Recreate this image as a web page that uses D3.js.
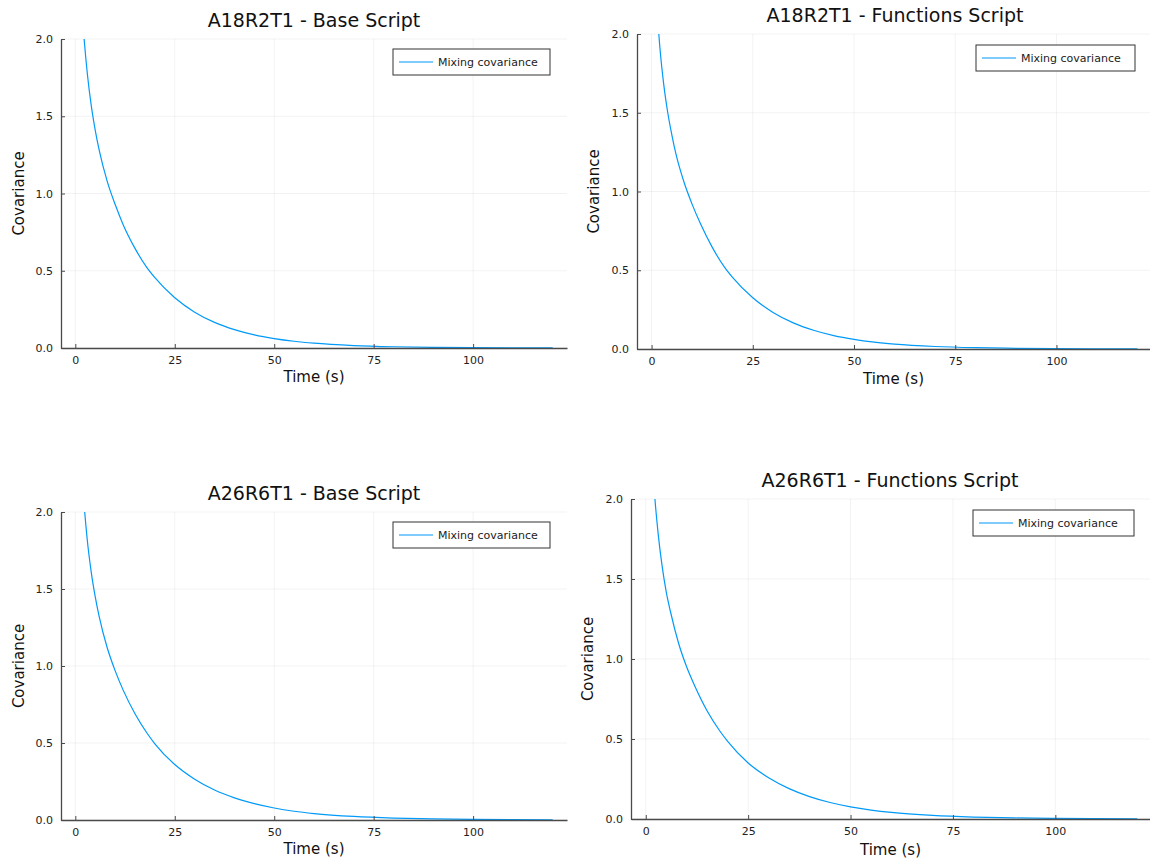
<!DOCTYPE html>
<html>
<head>
<meta charset="utf-8">
<script src="https://cdn.jsdelivr.net/npm/d3@7"></script>
<style>
  body { margin: 0; background: #fff; }
  svg { font-family: "DejaVu Sans", sans-serif; }
</style>
</head>
<body>
<div id="root"></div>
<script>
// values
const time = [1, 2, 3, 4, 5, 6, 8, 10, 12, 15, 18, 20, 25, 30, 35, 40, 45, 50, 55, 60, 70, 80, 90, 100, 110, 120];
const covA18Base = [2.46, 2.07, 1.78, 1.57, 1.41, 1.28, 1.08, 0.93, 0.80, 0.645, 0.52, 0.455, 0.325, 0.232, 0.166, 0.119, 0.085, 0.061, 0.0435, 0.031, 0.016, 0.0082, 0.0042, 0.0022, 0.0011, 0.0006];
const covA18Func = [2.30, 1.93, 1.68, 1.50, 1.36, 1.24, 1.06, 0.92, 0.80, 0.645, 0.52, 0.455, 0.325, 0.232, 0.166, 0.119, 0.085, 0.061, 0.0435, 0.031, 0.016, 0.0082, 0.0042, 0.0022, 0.0011, 0.0006];
const covA26Base = [2.55, 2.12, 1.82, 1.61, 1.45, 1.32, 1.12, 0.97, 0.845, 0.69, 0.565, 0.495, 0.36, 0.265, 0.195, 0.144, 0.106, 0.078, 0.057, 0.042, 0.023, 0.0125, 0.0068, 0.0037, 0.002, 0.0011];
const covA26Func = [2.50, 2.08, 1.79, 1.58, 1.42, 1.30, 1.10, 0.95, 0.83, 0.675, 0.553, 0.485, 0.35, 0.258, 0.19, 0.14, 0.103, 0.076, 0.056, 0.041, 0.0225, 0.0122, 0.0066, 0.0036, 0.002, 0.0011];
const xTicks = [0, 25, 50, 75, 100];
const yTicks = [0, 0.5, 1.0, 1.5, 2.0];
const xDomain = [-3.6, 123.6];
const yDomain = [0, 2];

const panels = [
  { title: "A18R2T1 - Base Script", values: covA18Base,
    left: 61, right: 567, top: 39, bottom: 348, titleX: 314, titleY: 27,
    ylabX: 19, xlabY: 382, legend: [393, 49, 157, 26] },
  { title: "A18R2T1 - Functions Script", values: covA18Func,
    left: 637, right: 1152, top: 34, bottom: 349, titleX: 895, titleY: 22,
    ylabX: 594, xlabY: 384, legend: [976, 45, 159, 26] },
  { title: "A26R6T1 - Base Script", values: covA26Base,
    left: 61, right: 567, top: 512, bottom: 820, titleX: 314, titleY: 500,
    ylabX: 19, xlabY: 854, legend: [393, 522, 157, 26] },
  { title: "A26R6T1 - Functions Script", values: covA26Func,
    left: 631, right: 1152, top: 499, bottom: 819, titleX: 890, titleY: 487,
    ylabX: 588, xlabY: 855, legend: [973, 510, 161, 26] }
];

const svg = d3.select("#root").append("svg")
  .attr("width", 1150)
  .attr("height", 861);

panels.forEach((p, i) => drawPanel(p, i));

function drawPanel(p, i) {
  const x = d3.scaleLinear().domain(xDomain).range([p.left, p.right]);
  const y = d3.scaleLinear().domain(yDomain).range([p.bottom, p.top]);
  const g = svg.append("g");

  // grid
  g.selectAll(".gx").data(xTicks).enter().append("line")
    .attr("x1", d => x(d)).attr("x2", d => x(d))
    .attr("y1", p.top).attr("y2", p.bottom)
    .attr("stroke", "#000").attr("stroke-opacity", 0.1).attr("stroke-width", 0.5);
  g.selectAll(".gy").data(yTicks).enter().append("line")
    .attr("x1", p.left).attr("x2", p.right)
    .attr("y1", d => y(d)).attr("y2", d => y(d))
    .attr("stroke", "#000").attr("stroke-opacity", 0.1).attr("stroke-width", 0.5);

  // clip & line
  g.append("clipPath").attr("id", "clip" + i)
    .append("rect").attr("x", p.left).attr("y", p.top)
    .attr("width", p.right - p.left).attr("height", p.bottom - p.top);

  const line = d3.line()
    .x((d, j) => x(time[j]))
    .y(d => y(d))
    .curve(d3.curveMonotoneX);

  g.append("path")
    .datum(p.values)
    .attr("clip-path", `url(#clip${i})`)
    .attr("fill", "none")
    .attr("stroke", "#009af9")
    .attr("stroke-width", 1.2)
    .attr("d", line);

  // axes (ticks inward)
  const xAxis = d3.axisBottom(x).tickValues(xTicks).tickFormat(d3.format("d"))
    .tickSizeInner(-4).tickSizeOuter(0).tickPadding(8);
  const yAxis = d3.axisLeft(y).tickValues(yTicks).tickFormat(d3.format(".1f"))
    .tickSizeInner(-4).tickSizeOuter(0).tickPadding(8);

  const gx = g.append("g").attr("transform", `translate(0,${p.bottom})`).call(xAxis);
  const gy = g.append("g").attr("transform", `translate(${p.left},0)`).call(yAxis);
  [gx, gy].forEach(a => {
    a.select(".domain").attr("stroke", "#4a4a4a").attr("stroke-width", 1.3);
    a.selectAll(".tick line").attr("stroke", "#4a4a4a").attr("stroke-width", 1);
    a.selectAll(".tick text").attr("fill", "#222").attr("font-size", 11)
      .attr("font-family", "DejaVu Sans, sans-serif");
  });

  // titles
  g.append("text")
    .attr("x", p.titleX).attr("y", p.titleY)
    .attr("text-anchor", "middle")
    .attr("font-size", 19).attr("fill", "#111")
    .text(p.title);

  g.append("text")
    .attr("x", (p.left + Math.min(p.right, 1150)) / 2).attr("y", p.xlabY)
    .attr("text-anchor", "middle")
    .attr("font-size", 15).attr("fill", "#111")
    .text("Time (s)");

  g.append("text")
    .attr("transform", `translate(${p.ylabX},${(p.top + p.bottom) / 2}) rotate(-90)`)
    .attr("text-anchor", "middle")
    .attr("dominant-baseline", "central")
    .attr("font-size", 15).attr("fill", "#111")
    .text("Covariance");

  // legend
  const [lx, ly, lw, lh] = p.legend;
  const midY = Math.round(ly + lh / 2);
  g.append("rect")
    .attr("x", lx).attr("y", ly).attr("width", lw).attr("height", lh)
    .attr("fill", "#fff").attr("stroke", "#333").attr("stroke-width", 1);
  g.append("line")
    .attr("x1", lx + 6).attr("x2", lx + 40)
    .attr("y1", midY).attr("y2", midY)
    .attr("stroke", "#009af9").attr("stroke-width", 1.2);
  g.append("text")
    .attr("x", lx + 45).attr("y", midY)
    .attr("dominant-baseline", "central")
    .attr("font-size", 11).attr("fill", "#222")
    .text("Mixing covariance");
}
</script>
</body>
</html>
